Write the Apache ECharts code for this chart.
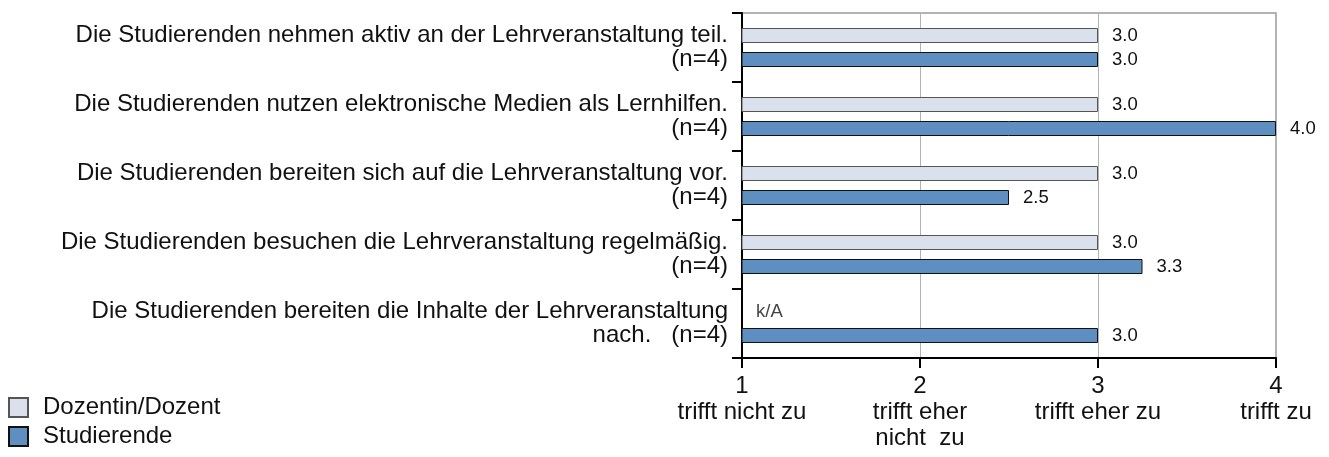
<!DOCTYPE html>
<html>
<head>
<meta charset="utf-8">
<script src="https://cdn.jsdelivr.net/npm/echarts@6/dist/echarts.min.js"></script>
<style>
html,body{margin:0;padding:0;background:#fff;}
#chart{width:1329px;height:457px;}
</style>
</head>
<body>
<div id="chart"></div>
<script>
const categories = [
  'Die Studierenden nehmen aktiv an der Lehrveranstaltung teil.\n(n=4)',
  'Die Studierenden nutzen elektronische Medien als Lernhilfen.\n(n=4)',
  'Die Studierenden bereiten sich auf die Lehrveranstaltung vor.\n(n=4)',
  'Die Studierenden besuchen die Lehrveranstaltung regelmäßig.\n(n=4)',
  'Die Studierenden bereiten die Inhalte der Lehrveranstaltung\nnach.   (n=4)'
];
const seriesNames = ['Dozentin/Dozent', 'Studierende'];
const dozentValues = [3.0, 3.0, 3.0, 3.0, null];
const studierendeValues = [3.0, 4.0, 2.5, 3.25, 3.0];
const xTickValues = [1, 2, 3, 4];
const xTickLabels = ['trifft nicht zu', 'trifft eher\nnicht  zu', 'trifft eher zu', 'trifft zu'];
const missingLabel = 'k/A';

const FONT = "'Liberation Sans', Arial, sans-serif";
const chart = echarts.init(document.getElementById('chart'), null, {renderer: 'canvas'});

const valueLabel = {
  show: true,
  position: 'right',
  distance: 14,
  fontSize: 18.5,
  fontFamily: FONT,
  color: '#111',
  formatter: p => (p.value == null ? '' : Number(p.value).toFixed(1))
};

const missingData = dozentValues
  .map((v, i) => (v == null ? [xTickValues[0], categories[i]] : null))
  .filter(d => d !== null);

const option = {
  animation: false,
  backgroundColor: '#fff',
  textStyle: {fontFamily: FONT},
  grid: {
    left: 742, right: 53, top: 13, bottom: 99,
    show: true, borderColor: '#9a9a9a', borderWidth: 1.5,
    containLabel: false
  },
  legend: {
    orient: 'vertical',
    left: 8, top: 394,
    padding: 0,
    height: 63,
    itemWidth: 19, itemHeight: 19, itemGap: 2,
    icon: 'rect',
    data: seriesNames,
    textStyle: {fontSize: 24, lineHeight: 27, fontFamily: FONT, color: '#111', padding: [0, 0, 0, 10]}
  },
  xAxis: {
    type: 'value',
    min: xTickValues[0],
    max: xTickValues[xTickValues.length - 1],
    interval: 1,
    axisLine: {show: true, lineStyle: {color: '#000', width: 2}},
    axisTick: {show: true, length: 10, lineStyle: {color: '#000', width: 2}},
    splitLine: {show: true, lineStyle: {color: '#b3b3b3', width: 1}},
    axisLabel: {
      show: true,
      showMinLabel: true, showMaxLabel: true,
      margin: 15,
      fontSize: 24,
      lineHeight: 26,
      fontFamily: FONT,
      color: '#111',
      formatter: v => {
        const i = xTickValues.indexOf(v);
        return i >= 0 ? v + '\n' + xTickLabels[i] : '';
      }
    }
  },
  yAxis: {
    type: 'category',
    data: categories,
    inverse: true,
    axisLine: {show: true, lineStyle: {color: '#000', width: 2}},
    axisTick: {show: true, length: 10, lineStyle: {color: '#000', width: 2}},
    splitLine: {show: false},
    axisLabel: {
      margin: 14,
      fontSize: 24,
      lineHeight: 24,
      padding: [4, 0, 0, 0],
      fontFamily: FONT,
      color: '#111',
      align: 'right'
    }
  },
  series: [
    {
      name: seriesNames[0],
      type: 'bar',
      data: dozentValues,
      barWidth: 15,
      barGap: '60%',
      itemStyle: {color: '#dae1ec', borderColor: '#555', borderWidth: 1},
      label: valueLabel
    },
    {
      name: seriesNames[1],
      type: 'bar',
      data: studierendeValues,
      barWidth: 15,
      barGap: '60%',
      itemStyle: {color: '#5f8fc0', borderColor: '#111', borderWidth: 1},
      label: valueLabel
    },
    {
      name: missingLabel,
      type: 'scatter',
      data: missingData,
      symbolSize: 0,
      clip: false,
      silent: true,
      label: {
        show: true,
        position: 'right',
        distance: 14,
        offset: [0, -12],
        fontSize: 18.5,
        fontFamily: FONT,
        color: '#111',
        formatter: missingLabel
      }
    }
  ]
};
chart.setOption(option);
</script>
</body>
</html>
